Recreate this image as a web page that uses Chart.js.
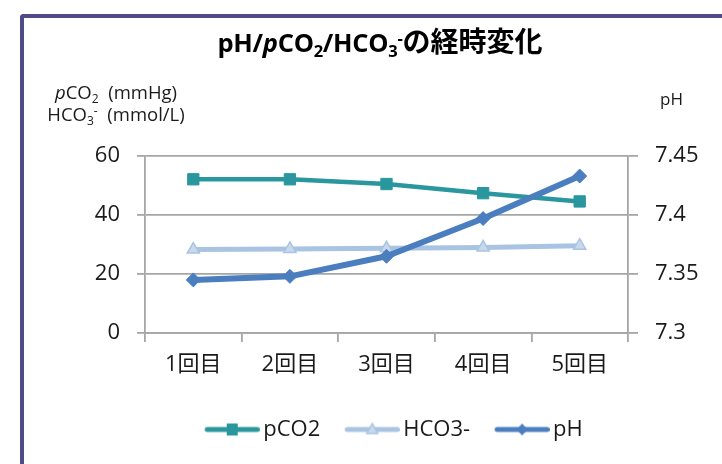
<!DOCTYPE html>
<html lang="ja">
<head>
<meta charset="utf-8">
<title>pH/pCO2/HCO3-の経時変化</title>
<script src="https://cdn.jsdelivr.net/npm/chart.js@4.4.1/dist/chart.umd.min.js"></script>
<style>
  html, body { margin: 0; padding: 0; background: #fff; }
  #wrap { position: relative; width: 722px; height: 464px; overflow: hidden; }
  #frame {
    position: absolute; left: 20px; top: 14px; width: 760px; height: 500px;
    border-left: 4px solid #4f4a89; border-top: 4px solid #4f4a89;
    border-top-left-radius: 4px;
  }
  #chart { position: absolute; left: 0; top: 0; }
  .txt {
    position: absolute; white-space: nowrap; color: #1a1a1a;
    font-family: "Open Sans", "Noto Sans CJK JP", sans-serif;
  }
  .txt sub, .txt sup { font-size: 0.65em; line-height: 0; position: relative; vertical-align: baseline; }
  .txt sub { top: 0.3em; }
  .txt sup { top: -0.5em; }
  #title {
    left: 0; width: 760px; top: 26px; text-align: center;
    font-size: 25.5px; line-height: 33px; font-weight: 700; color: #000;
    letter-spacing: -0.3px;
  }
  #title .jp { font-family: "Noto Sans CJK JP", sans-serif; font-size: 28px; line-height: 0; letter-spacing: 0; }
  #ytitle { left: 20px; width: 192px; top: 81px; text-align: center; font-size: 18.5px; line-height: 22px; }
  #y1title { left: 660px; top: 87px; font-size: 17px; line-height: 24px; }
</style>
</head>
<body>
<div id="wrap">
  <div id="frame"></div>
  <canvas id="chart" width="722" height="464"></canvas>
  <div id="title" class="txt">pH/<i>p</i>CO<sub>2</sub>/HCO<sub>3</sub><sup>-</sup><span class="jp">の経時変化</span></div>
  <div id="ytitle" class="txt"><i>p</i>CO<sub>2</sub>&nbsp; (mmHg)<br>HCO<sub>3</sub><sup>-</sup>&nbsp; (mmol/L)</div>
  <div id="y1title" class="txt">pH</div>
</div>
<script>
// Measurements per session
const categories = ['1回目', '2回目', '3回目', '4回目', '5回目'];
const pco2Values = [52.1, 52.1, 50.5, 47.4, 44.6];   // mmHg
const hco3Values = [28.3, 28.5, 28.7, 29.0, 29.6];   // mmol/L
const phValues   = [7.345, 7.348, 7.365, 7.397, 7.433];

// Axis tick values
const leftTicks = [0, 20, 40, 60];
const phTicks   = [7.3, 7.35, 7.4, 7.45];

const TEAL = '#2a979e';
const LIGHT = '#a9c4e2';
const LIGHT_FILL = '#c9d9ec';
const BLUE = '#4a7ebf';
const GRID = '#a6a6a6';
const TEXT = '#1a1a1a';
const FONT_FAMILY = '"Open Sans", "Noto Sans CJK JP", sans-serif';

// Legend swatch: a short line with the series marker in its middle.
function legendSwatch(color, lineWidth, marker) {
  const c = document.createElement('canvas');
  c.width = 77; c.height = 18;
  const g = c.getContext('2d');
  g.strokeStyle = color;
  g.lineWidth = lineWidth;
  g.lineCap = 'round';
  g.beginPath();
  g.moveTo(22 + lineWidth / 2, 9);
  g.lineTo(77 - lineWidth / 2, 9);
  g.stroke();
  marker(g, 49.5, 9);
  return c;
}

const swatches = [
  legendSwatch(TEAL, 5, (g, x, y) => { g.fillStyle = TEAL; g.fillRect(x - 5.5, y - 6, 11, 12); }),
  legendSwatch(LIGHT, 5, (g, x, y) => {
    g.fillStyle = LIGHT_FILL; g.strokeStyle = LIGHT; g.lineWidth = 1.5;
    g.beginPath(); g.moveTo(x, y - 6); g.lineTo(x + 5.5, y + 4); g.lineTo(x - 5.5, y + 4); g.closePath();
    g.fill(); g.stroke();
  }),
  legendSwatch(BLUE, 5, (g, x, y) => {
    g.fillStyle = BLUE;
    g.beginPath(); g.moveTo(x, y - 6); g.lineTo(x + 5.5, y); g.lineTo(x, y + 6); g.lineTo(x - 5.5, y); g.closePath();
    g.fill();
  })
];

const tickFont = { family: FONT_FAMILY, size: 22 };

new Chart(document.getElementById('chart'), {
  type: 'line',
  data: {
    labels: categories,
    datasets: [
      {
        label: 'pCO2', data: pco2Values, yAxisID: 'y', order: 3,
        borderColor: TEAL, backgroundColor: TEAL, borderWidth: 4.5,
        pointStyle: 'rect', pointRadius: 8, pointBorderWidth: 1,
        pointBackgroundColor: TEAL, pointBorderColor: TEAL
      },
      {
        label: 'HCO3-', data: hco3Values, yAxisID: 'y', order: 2,
        borderColor: LIGHT, backgroundColor: LIGHT_FILL, borderWidth: 5,
        pointStyle: 'triangle', pointRadius: 7, pointBorderWidth: 1.5,
        pointBackgroundColor: LIGHT_FILL, pointBorderColor: LIGHT
      },
      {
        label: 'pH', data: phValues, yAxisID: 'y1', order: 1,
        borderColor: BLUE, backgroundColor: BLUE, borderWidth: 6,
        pointStyle: 'rectRot', pointRadius: 7, pointBorderWidth: 1,
        pointBackgroundColor: BLUE, pointBorderColor: BLUE
      }
    ]
  },
  options: {
    responsive: false,
    animation: false,
    events: [],
    layout: { padding: { top: 156, left: 0, right: 0, bottom: 13.5 } },
    elements: { line: { tension: 0, borderCapStyle: 'round', borderJoinStyle: 'round' } },
    plugins: {
      tooltip: { enabled: false },
      title: { display: false },
      legend: {
        position: 'bottom',
        fullSize: false,
        labels: {
          usePointStyle: true,
          pointStyleWidth: 62,
          padding: 10,
          color: TEXT,
          font: { family: FONT_FAMILY, size: 22 },
          sort: (a, b) => a.datasetIndex - b.datasetIndex,
          generateLabels: (chart) => {
            const items = Chart.defaults.plugins.legend.labels.generateLabels(chart);
            items.forEach(it => { it.pointStyle = swatches[it.datasetIndex]; });
            return items;
          }
        }
      }
    },
    scales: {
      x: {
        type: 'category',
        offset: true,
        grid: { offset: true, drawOnChartArea: false, drawTicks: true, tickLength: 9, color: GRID, lineWidth: 1.8 },
        border: { display: true, color: GRID, width: 1.8 },
        ticks: { font: tickFont, color: TEXT, padding: 10 },
        afterFit: (s) => { s.height = 75.5; }
      },
      y: {
        position: 'left',
        min: 0, max: 60,
        afterBuildTicks: (s) => { s.ticks = leftTicks.map(v => ({ value: v })); },
        grid: { color: GRID, lineWidth: 1.8, tickLength: 8 },
        border: { display: true, color: GRID, width: 1.8 },
        ticks: { font: tickFont, color: TEXT, padding: 17 },
        afterFit: (s) => { s.width = 145; }
      },
      y1: {
        position: 'right',
        min: 7.3, max: 7.45,
        afterBuildTicks: (s) => { s.ticks = phTicks.map(v => ({ value: v })); },
        grid: { drawOnChartArea: false, color: GRID, lineWidth: 1.8, tickLength: 10 },
        border: { display: true, color: GRID, width: 1.8 },
        ticks: { font: tickFont, color: TEXT, padding: 17, callback: (v) => String(+v.toFixed(2)) },
        afterFit: (s) => { s.width = 94; }
      }
    }
  }
});
</script>
</body>
</html>
